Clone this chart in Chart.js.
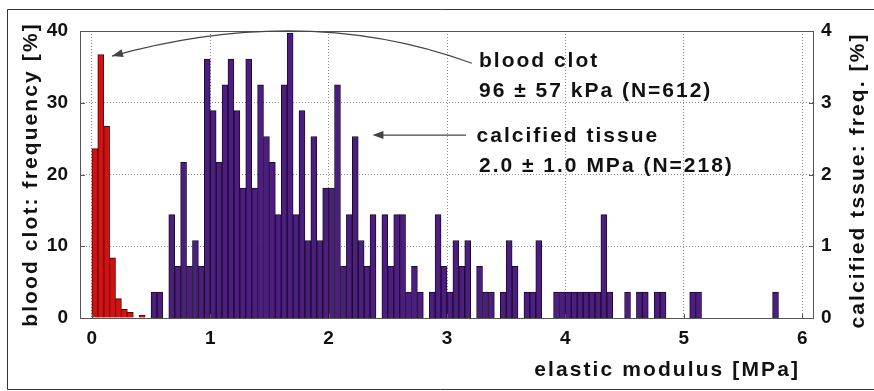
<!DOCTYPE html>
<html lang="en">
<head>
<meta charset="UTF-8">
<title>Elastic modulus: blood clot vs calcified tissue</title>
<script src="https://cdn.jsdelivr.net/npm/chart.js"></script>
<style>
  html, body { margin: 0; padding: 0; background: #fff; }
</style>
</head>
<body>
<canvas id="chart" width="874" height="391"></canvas>
<script>
// histogram bins are 0.05 MPa wide, arrays hold the left edge of each bin
const binWidth = 0.05;

// blood clot, left axis [%]
const clotBinStart = [0.00, 0.05, 0.10, 0.15, 0.20, 0.25, 0.30, 0.40];
const clotFreq     = [23.6, 36.7, 26.7, 8.4, 2.7, 1.2, 0.8, 0.4];

// calcified tissue, right axis [%] (empty bins left out)
const tissueBinStart = [
  0.50, 0.55,
  0.65, 0.70, 0.75, 0.80, 0.85, 0.90, 0.95, 1.00, 1.05, 1.10, 1.15, 1.20,
  1.25, 1.30, 1.35, 1.40, 1.45, 1.50, 1.55, 1.60, 1.65, 1.70, 1.75, 1.80,
  1.85, 1.90, 1.95, 2.00, 2.05, 2.10, 2.15, 2.20, 2.25, 2.30, 2.35,
  2.45, 2.50, 2.55, 2.60, 2.65, 2.70, 2.75,
  2.85, 2.90, 2.95, 3.00, 3.05, 3.10, 3.15,
  3.25, 3.30, 3.35,
  3.45, 3.50, 3.55,
  3.65, 3.70, 3.75,
  3.90, 3.95, 4.00, 4.05, 4.10, 4.15, 4.20, 4.25, 4.30, 4.35,
  4.50, 4.60, 4.65, 4.75, 4.80, 5.05, 5.10, 5.75
];
const tissueFreq = [
  0.36, 0.36,
  1.44, 0.72, 2.17, 0.72, 1.08, 0.72, 3.61, 2.89, 2.17, 3.25, 3.61, 2.89,
  1.81, 3.61, 1.81, 3.25, 2.53, 2.17, 1.44, 3.25, 3.97, 1.44, 2.89, 1.08,
  2.53, 1.08, 1.81, 1.81, 3.25, 0.72, 1.44, 2.53, 1.08, 0.72, 1.44,
  1.44, 0.72, 1.44, 1.44, 0.36, 0.72, 0.36,
  0.36, 1.44, 0.72, 0.36, 1.08, 0.72, 1.08,
  0.72, 0.36, 0.36,
  0.36, 1.08, 0.72,
  0.36, 0.36, 1.08,
  0.36, 0.36, 0.36, 0.36, 0.36, 0.36, 0.36, 0.36, 1.44, 0.36,
  0.36, 0.36, 0.36, 0.36, 0.36, 0.36, 0.36, 0.36
];

const xTicks = [0, 1, 2, 3, 4, 5, 6];
const clotTicks = [0, 10, 20, 30, 40];
const tissueTicks = [0, 1, 2, 3, 4];

// annotation text, in data units (x in MPa, y on the left axis)
const notes = [
  { text: 'blood clot',            x: 3.27, y: 35.0 },
  { text: '96 \u00b1 57 kPa (N=612)', x: 3.27, y: 30.8 },
  { text: 'calcified tissue',      x: 3.25, y: 24.5 },
  { text: '2.0 \u00b1 1.0 MPa (N=218)', x: 3.27, y: 20.3 }
];

const FONT = '"Liberation Sans", Arial, sans-serif';

function toPoints(starts, vals) {
  return starts.map((s, i) => ({ x: s + binWidth / 2, y: vals[i] }));
}

function arrowHead(ctx, tx, ty, fromX, fromY) {
  const ang = Math.atan2(ty - fromY, tx - fromX);
  const len = 11, half = 4;
  ctx.beginPath();
  ctx.moveTo(tx, ty);
  ctx.lineTo(tx - len * Math.cos(ang) + half * Math.sin(ang), ty - len * Math.sin(ang) - half * Math.cos(ang));
  ctx.lineTo(tx - len * Math.cos(ang) - half * Math.sin(ang), ty - len * Math.sin(ang) + half * Math.cos(ang));
  ctx.closePath();
  ctx.fill();
}

const decor = {
  id: 'decor',
  afterDraw(chart) {
    const { ctx, chartArea: a, scales } = chart;
    const sx = scales.x, sy = scales.y, sy2 = scales.y2;
    ctx.save();

    // outer frame of the figure
    ctx.strokeStyle = '#333';
    ctx.lineWidth = 1;
    ctx.beginPath();
    ctx.moveTo(7.5, 389.5); ctx.lineTo(7.5, 9.5); ctx.lineTo(874, 9.5);
    ctx.moveTo(7.5, 389.5); ctx.lineTo(874, 389.5);
    ctx.stroke();

    // plot box
    ctx.strokeStyle = '#555';
    ctx.strokeRect(a.left + 0.5, a.top + 0.5, a.width - 1, a.height);

    // small inward ticks
    ctx.beginPath();
    clotTicks.forEach(v => {
      const p = Math.round(sy.getPixelForValue(v)) + 0.5;
      ctx.moveTo(a.left, p); ctx.lineTo(a.left + 5, p);
    });
    tissueTicks.forEach(v => {
      const p = Math.round(sy2.getPixelForValue(v)) + 0.5;
      ctx.moveTo(a.right - 5, p); ctx.lineTo(a.right, p);
    });
    xTicks.forEach(v => {
      const p = Math.round(sx.getPixelForValue(v)) + 0.5;
      ctx.moveTo(p, a.bottom); ctx.lineTo(p, a.bottom - 4);
    });
    ctx.stroke();

    // arrows
    ctx.strokeStyle = '#444';
    ctx.fillStyle = '#444';
    ctx.lineWidth = 1.2;
    const c0x = sx.getPixelForValue(3.21), c0y = sy.getPixelForValue(35.5);
    const ccx = sx.getPixelForValue(1.81), ccy = sy.getPixelForValue(44.0);
    const c1x = sx.getPixelForValue(0.17), c1y = sy.getPixelForValue(36.5);
    ctx.beginPath();
    ctx.moveTo(c0x, c0y);
    ctx.quadraticCurveTo(ccx, ccy, c1x, c1y);
    ctx.stroke();
    arrowHead(ctx, c1x, c1y, ccx, ccy);

    const h0x = sx.getPixelForValue(3.16), h1x = sx.getPixelForValue(2.37);
    const hy = sy.getPixelForValue(25.5);
    ctx.beginPath();
    ctx.moveTo(h0x, hy); ctx.lineTo(h1x + 4, hy);
    ctx.stroke();
    arrowHead(ctx, h1x, hy, h0x, hy);

    // text
    ctx.fillStyle = '#111';
    ctx.font = 'bold 21px ' + FONT;
    ctx.letterSpacing = '2px';
    ctx.textAlign = 'left';
    ctx.textBaseline = 'alphabetic';
    notes.forEach(n => {
      ctx.fillText(n.text, sx.getPixelForValue(n.x), sy.getPixelForValue(n.y));
    });

    ctx.letterSpacing = '2.1px';
    ctx.textAlign = 'right';
    ctx.fillText('elastic modulus [MPa]', a.right - 14, a.bottom + 58);

    ctx.textAlign = 'center';
    ctx.textBaseline = 'middle';
    ctx.save();
    ctx.translate(31, (a.top + a.bottom) / 2);
    ctx.rotate(-Math.PI / 2);
    ctx.fillText('blood clot: frequency [%]', 0, 0);
    ctx.restore();

    ctx.save();
    ctx.translate(858, (a.top + a.bottom) / 2 + 6);
    ctx.rotate(-Math.PI / 2);
    ctx.fillText('calcified tssue: freq. [%]', 0, 0);
    ctx.restore();

    ctx.restore();
  }
};

const tickFont = { family: FONT, size: 19, weight: 'bold' };

new Chart(document.getElementById('chart'), {
  type: 'bar',
  data: {
    datasets: [
      {
        label: 'blood clot',
        data: toPoints(clotBinStart, clotFreq),
        yAxisID: 'y',
        backgroundColor: '#d01212',
        borderColor: '#4a0707',
        borderWidth: 1,
        barPercentage: 1,
        categoryPercentage: 1,
        grouped: false
      },
      {
        label: 'calcified tissue',
        data: toPoints(tissueBinStart, tissueFreq),
        yAxisID: 'y2',
        backgroundColor: '#4c1f7e',
        borderColor: '#1d0a33',
        borderWidth: 1,
        barPercentage: 1,
        categoryPercentage: 1,
        grouped: false
      }
    ]
  },
  options: {
    responsive: false,
    animation: false,
    devicePixelRatio: 1,
    layout: { padding: { top: 31, left: 0, right: 0, bottom: 0 } },
    plugins: { legend: { display: false }, tooltip: { enabled: false } },
    scales: {
      x: {
        type: 'linear',
        offset: false,
        min: -0.1,
        max: 6.1,
        afterBuildTicks: s => { s.ticks = xTicks.map(v => ({ value: v })); },
        afterFit: s => { s.height = 73; },
        grid: { color: '#8a8a8a', drawTicks: false, offset: false },
        border: { display: false, dash: [1, 2] },
        ticks: { font: tickFont, color: '#111', padding: 9, maxRotation: 0 }
      },
      y: {
        position: 'left',
        min: 0,
        max: 40,
        afterBuildTicks: s => { s.ticks = clotTicks.map(v => ({ value: v })); },
        afterFit: s => { s.width = 80; },
        grid: { color: '#8a8a8a', drawTicks: false },
        border: { display: false, dash: [1, 2] },
        ticks: { font: tickFont, color: '#111', padding: 12 }
      },
      y2: {
        position: 'right',
        min: 0,
        max: 4,
        afterBuildTicks: s => { s.ticks = tissueTicks.map(v => ({ value: v })); },
        afterFit: s => { s.width = 60; },
        grid: { display: false, drawTicks: false },
        border: { display: false },
        ticks: { font: tickFont, color: '#111', padding: 7 }
      }
    }
  },
  plugins: [decor]
});
</script>
</body>
</html>
